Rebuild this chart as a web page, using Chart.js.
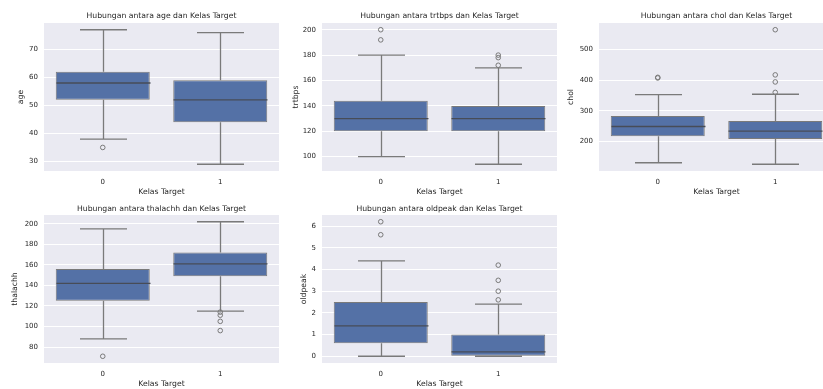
<!DOCTYPE html>
<html>
<head>
<meta charset="utf-8">
<script src="https://cdn.jsdelivr.net/npm/chart.js@4/dist/chart.umd.min.js"></script>
<style>
  html, body { margin: 0; padding: 0; background: #ffffff; }
  body { width: 823px; height: 389px; overflow: hidden; position: relative; }
  canvas.panel { position: absolute; }
</style>
</head>
<body>
<script>
// Target classes shown on every x axis
const classLabels = ['0', '1'];

// Five-number summaries per class: [lower whisker, Q1, median, Q3, upper whisker]
const ageSummary = [[38, 52, 58, 62, 77], [29, 44, 52, 59, 76]];
const ageOutliers = [[35], []];
const ageTicks = [30, 40, 50, 60, 70];

const trtbpsSummary = [[100, 120, 130, 144, 180], [94, 120, 130, 140, 170]];
const trtbpsOutliers = [[192, 200], [172, 178, 180]];
const trtbpsTicks = [100, 120, 140, 160, 180, 200];

const cholSummary = [[131, 217, 249, 283, 353], [126, 208, 234, 267, 354]];
const cholOutliers = [[407, 409], [360, 394, 417, 564]];
const cholTicks = [200, 300, 400, 500];

const thalachhSummary = [[88, 125, 142, 156, 195], [115, 149, 161, 172, 202]];
const thalachhOutliers = [[71], [96, 105, 111, 114]];
const thalachhTicks = [80, 100, 120, 140, 160, 180, 200];

const oldpeakSummary = [[0, 0.6, 1.4, 2.5, 4.4], [0, 0, 0.2, 1.0, 2.4]];
const oldpeakOutliers = [[5.6, 6.2], [2.6, 3.0, 3.5, 4.2]];
const oldpeakTicks = [0, 1, 2, 3, 4, 5, 6];

const TEXT = '#262626';
const FONT = 'DejaVu Sans';
const BOX_FILL = '#5471a6';
const LINE = '#7a7a7a';

// Subplot placement (plot-area left/top in page pixels) and y-label inset
const panels = [
  { name: 'age',      summary: ageSummary,      outliers: ageOutliers,      ticks: ageTicks,      left: 44,  top: 23,  labelPad: 16.8, titleGap: 7 },
  { name: 'trtbps',   summary: trtbpsSummary,   outliers: trtbpsOutliers,   ticks: trtbpsTicks,   left: 322, top: 23,  labelPad: 13.2, titleGap: 7 },
  { name: 'chol',     summary: cholSummary,     outliers: cholOutliers,     ticks: cholTicks,     left: 599, top: 23,  labelPad: 11.8, titleGap: 7 },
  { name: 'thalachh', summary: thalachhSummary, outliers: thalachhOutliers, ticks: thalachhTicks, left: 44,  top: 215, labelPad: 10.5, titleGap: 6 },
  { name: 'oldpeak',  summary: oldpeakSummary,  outliers: oldpeakOutliers,  ticks: oldpeakTicks,  left: 322, top: 215, labelPad: 21.5, titleGap: 6 }
];

const PLOT_W = 238, PLOT_H = 148, Y_AXIS_W = 44, X_AXIS_H = 30, TITLE_H = 20;
const TITLE_SIZE = 7.7, TICK_SIZE = 7;

// Light grey plotting surface behind the grid
const plotBackground = {
  id: 'plotBackground',
  beforeDraw(chart) {
    const { ctx, chartArea: a } = chart;
    ctx.save();
    ctx.fillStyle = '#eaeaf2';
    ctx.fillRect(a.left, a.top, a.width, a.height);
    ctx.restore();
  }
};

// Whiskers, caps and median lines for each box, positioned through the chart scales
const boxWhiskers = {
  id: 'boxWhiskers',
  afterDatasetsDraw(chart, args, opts) {
    const { ctx, scales: { x, y } } = chart;
    const bars = chart.getDatasetMeta(0).data;
    ctx.save();
    ctx.lineCap = 'butt';
    opts.summary.forEach((s, i) => {
      const cx = Math.round(x.getPixelForValue(i)) + 0.5;
      const half = bars[i].width / 2;
      const cap = half / 2;
      const [lo, q1, med, q3, hi] = s.map(v => y.getPixelForValue(v));
      ctx.strokeStyle = opts.color;
      ctx.lineWidth = opts.width;
      ctx.beginPath();
      ctx.moveTo(cx, q1); ctx.lineTo(cx, lo);
      ctx.moveTo(cx - cap, lo); ctx.lineTo(cx + cap, lo);
      ctx.moveTo(cx, q3); ctx.lineTo(cx, hi);
      ctx.moveTo(cx - cap, hi); ctx.lineTo(cx + cap, hi);
      ctx.stroke();
      ctx.strokeStyle = opts.medianColor;
      ctx.beginPath();
      ctx.moveTo(cx - half, med); ctx.lineTo(cx + half, med);
      ctx.stroke();
    });
    ctx.restore();
  }
};

panels.forEach(p => {
  const canvas = document.createElement('canvas');
  canvas.className = 'panel';
  const w = Y_AXIS_W + PLOT_W + 2;
  const h = TITLE_H + PLOT_H + X_AXIS_H;
  canvas.width = w; canvas.height = h;
  canvas.style.width = w + 'px'; canvas.style.height = h + 'px';
  canvas.style.left = (p.left - Y_AXIS_W) + 'px';
  canvas.style.top = (p.top - TITLE_H) + 'px';
  document.body.appendChild(canvas);

  const all = p.summary.flat().concat(p.outliers.flat());
  const lo = Math.min(...all), hi = Math.max(...all);
  const margin = (hi - lo) * 0.05;

  const titleLH = TITLE_SIZE * 1.2;
  const titleBottom = p.titleGap - titleLH / 2;
  const titleTop = TITLE_H - titleLH - titleBottom;

  new Chart(canvas, {
    type: 'bar',
    data: {
      labels: classLabels,
      datasets: [
        {
          type: 'bar',
          data: p.summary.map(s => [s[1], s[3]]),
          backgroundColor: BOX_FILL,
          borderColor: LINE,
          borderWidth: 1,
          borderSkipped: false,
          categoryPercentage: 1,
          barPercentage: 0.8,
          order: 2
        },
        {
          type: 'line',
          data: p.outliers.flatMap((arr, i) => arr.map(v => ({ x: classLabels[i], y: v }))),
          showLine: false,
          pointStyle: 'circle',
          pointRadius: 2.3,
          pointBorderWidth: 1,
          pointBorderColor: LINE,
          pointBackgroundColor: 'rgba(0,0,0,0)',
          order: 1
        }
      ]
    },
    options: {
      responsive: false,
      animation: false,
      devicePixelRatio: 1,
      layout: { padding: { left: 0, right: 2, top: 0, bottom: 0 } },
      plugins: {
        legend: { display: false },
        tooltip: { enabled: false },
        title: {
          display: true,
          fullSize: false,
          text: 'Hubungan antara ' + p.name + ' dan Kelas Target',
          color: TEXT,
          font: { family: FONT, size: TITLE_SIZE, weight: 'normal' },
          padding: { top: titleTop, bottom: titleBottom }
        },
        boxWhiskers: { summary: p.summary, color: LINE, medianColor: '#474c57', width: 1.3 }
      },
      scales: {
        x: {
          type: 'category',
          offset: true,
          grid: { display: false, drawTicks: false },
          border: { display: false },
          ticks: { color: TEXT, font: { family: FONT, size: TICK_SIZE }, padding: 6.5 },
          title: {
            display: true, text: 'Kelas Target', color: TEXT,
            font: { family: FONT, size: TITLE_SIZE }, padding: { top: 0, bottom: 4.8 }
          },
          afterFit(scale) { scale.height = X_AXIS_H; }
        },
        y: {
          min: lo - margin,
          max: hi + margin,
          grid: { color: '#ffffff', lineWidth: 1, drawTicks: false },
          border: { display: false },
          ticks: { color: TEXT, font: { family: FONT, size: TICK_SIZE }, padding: 6 },
          afterBuildTicks(scale) { scale.ticks = p.ticks.map(v => ({ value: v })); },
          title: {
            display: true, text: p.name, color: TEXT,
            font: { family: FONT, size: TITLE_SIZE }, padding: { top: p.labelPad, bottom: 0 }
          },
          afterFit(scale) { scale.width = Y_AXIS_W; }
        }
      }
    },
    plugins: [plotBackground, boxWhiskers]
  });
});
</script>
</body>
</html>
